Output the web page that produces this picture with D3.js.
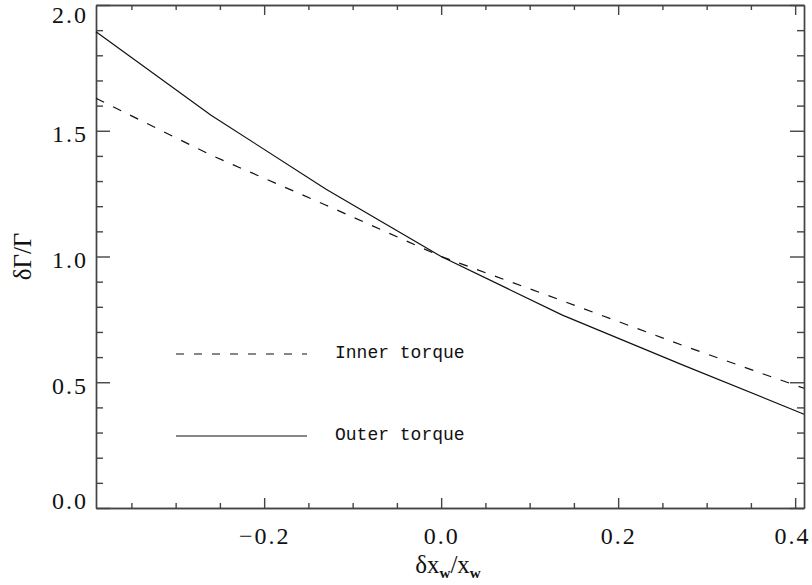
<!DOCTYPE html>
<html>
<head>
<meta charset="utf-8">
<script src="https://cdn.jsdelivr.net/npm/d3@7"></script>
<style>
  body { margin: 0; background: #fff; }
  .tick text { font-family: "Liberation Serif", serif; font-size: 24px; letter-spacing: 2px; fill: #111; }
  .legend text { font-family: "Liberation Mono", monospace; font-size: 18px; fill: #111; }
  .title { font-family: "Liberation Serif", serif; font-size: 25px; fill: #111; }
</style>
</head>
<body>
<div id="chart"></div>
<script>
// chart values
const xVals = [-0.39, -0.26, -0.13, 0, 0.137, 0.274, 0.41];
const outerTorque = [1.894, 1.562, 1.267, 1.0, 0.767, 0.567, 0.373];
const innerTorque = [1.629, 1.403, 1.204, 1.0, 0.824, 0.645, 0.476];

const xMajor = [-0.2, 0, 0.2, 0.4];
const xTickLabels = ["\u22120.2", "0.0", "0.2", "0.4"];
const xMinor = [-0.35, -0.3, -0.25, -0.15, -0.1, -0.05, 0.05, 0.1, 0.15, 0.25, 0.3, 0.35];
const yMajor = [0, 0.5, 1.0, 1.5, 2.0];
const yTickLabels = ["0.0", "0.5", "1.0", "1.5", "2.0"];
const yMinor = [0.1, 0.2, 0.3, 0.4, 0.6, 0.7, 0.8, 0.9, 1.1, 1.2, 1.3, 1.4, 1.6, 1.7, 1.8, 1.9];

const legendLabels = ["Inner torque", "Outer torque"];

function drawChart() {
  const width = 812;
  const height = 585;
  const margin = {top: 5, right: 8, bottom: 77, left: 96};
  const axisColor = "#444";

  const svg = d3.select("#chart")
    .append("svg")
    .attr("width", width)
    .attr("height", height);

  const xScale = d3.scaleLinear()
    .domain([-0.39, 0.41])
    .range([margin.left, width - margin.right]);

  const yScale = d3.scaleLinear()
    .domain([0, 2])
    .range([height - margin.bottom, margin.top]);

  const x0 = margin.left, x1 = width - margin.right;
  const y0 = height - margin.bottom, y1 = margin.top;

  // major ticks with labels (bottom/left), inward ticks
  const xAxis = d3.axisBottom(xScale)
    .tickValues(xMajor)
    .tickFormat((d, i) => xTickLabels[i])
    .tickSizeInner(-10).tickSizeOuter(0).tickPadding(19);
  const gx = svg.append("g")
    .attr("transform", `translate(0,${y0})`)
    .call(xAxis);

  // last label sits right at the page edge, keep it inside
  gx.selectAll(".tick text")
    .filter(d => d === 0.4)
    .attr("text-anchor", "end")
    .attr("x", width - 2 - xScale(0.4));

  const yAxis = d3.axisLeft(yScale)
    .tickValues(yMajor)
    .tickFormat((d, i) => yTickLabels[i])
    .tickSizeInner(-14).tickSizeOuter(0).tickPadding(8);
  const gy = svg.append("g")
    .attr("transform", `translate(${x0},0)`)
    .call(yAxis);

  // end labels are pushed inside the frame, like the original
  gy.selectAll(".tick text")
    .attr("dy", d => d === 2 ? "0.72em" : d === 0 ? "0em" : "0.45em");

  // minor ticks
  svg.append("g").attr("transform", `translate(0,${y0})`)
    .call(d3.axisBottom(xScale).tickValues(xMinor).tickFormat("").tickSizeInner(-5).tickSizeOuter(0));
  svg.append("g").attr("transform", `translate(${x0},0)`)
    .call(d3.axisLeft(yScale).tickValues(yMinor).tickFormat("").tickSizeInner(-7).tickSizeOuter(0));

  // mirrored top / right axes
  svg.append("g").attr("transform", `translate(0,${y1})`)
    .call(d3.axisTop(xScale).tickValues(xMajor).tickFormat("").tickSizeInner(-10).tickSizeOuter(0));
  svg.append("g").attr("transform", `translate(0,${y1})`)
    .call(d3.axisTop(xScale).tickValues(xMinor).tickFormat("").tickSizeInner(-5).tickSizeOuter(0));
  svg.append("g").attr("transform", `translate(${x1},0)`)
    .call(d3.axisRight(yScale).tickValues(yMajor).tickFormat("").tickSizeInner(-14).tickSizeOuter(0));
  svg.append("g").attr("transform", `translate(${x1},0)`)
    .call(d3.axisRight(yScale).tickValues(yMinor).tickFormat("").tickSizeInner(-7).tickSizeOuter(0));

  svg.selectAll(".domain, .tick line")
    .attr("stroke", axisColor)
    .attr("stroke-width", 1.4);

  // data lines
  const line = d3.line()
    .x((d, i) => xScale(xVals[i]))
    .y(d => yScale(d));

  svg.append("path")
    .datum(innerTorque)
    .attr("fill", "none")
    .attr("stroke", "#111")
    .attr("stroke-width", 1.2)
    .attr("stroke-dasharray", "9,10")
    .attr("d", line);

  svg.append("path")
    .datum(outerTorque)
    .attr("fill", "none")
    .attr("stroke", "#111")
    .attr("stroke-width", 1.2)
    .attr("d", line);

  // legend
  const legend = svg.append("g").attr("class", "legend");
  const legendY = [354, 436];
  legendLabels.forEach((label, i) => {
    legend.append("line")
      .attr("x1", 176).attr("x2", 307)
      .attr("y1", legendY[i]).attr("y2", legendY[i])
      .attr("stroke", "#111")
      .attr("stroke-width", 1.2)
      .attr("stroke-dasharray", i === 0 ? "8,10" : null);
    legend.append("text")
      .attr("x", 335)
      .attr("y", legendY[i] + 4)
      .text(label);
  });

  // axis titles
  const xt = svg.append("text")
    .attr("class", "title")
    .attr("x", (x0 + x1) / 2 - 2)
    .attr("y", 573)
    .attr("text-anchor", "middle");
  xt.append("tspan").text("\u03b4x");
  xt.append("tspan").attr("dy", 5).attr("font-size", 15).attr("font-weight", "bold").text("w");
  xt.append("tspan").attr("dy", -5).text("/x");
  xt.append("tspan").attr("dy", 5).attr("font-size", 15).attr("font-weight", "bold").text("w");

  svg.append("text")
    .attr("class", "title")
    .attr("transform", `translate(31,${(y0 + y1) / 2}) rotate(-90)`)
    .attr("text-anchor", "middle")
    .text("\u03b4\u0393/\u0393");
}

drawChart();
</script>
</body>
</html>
